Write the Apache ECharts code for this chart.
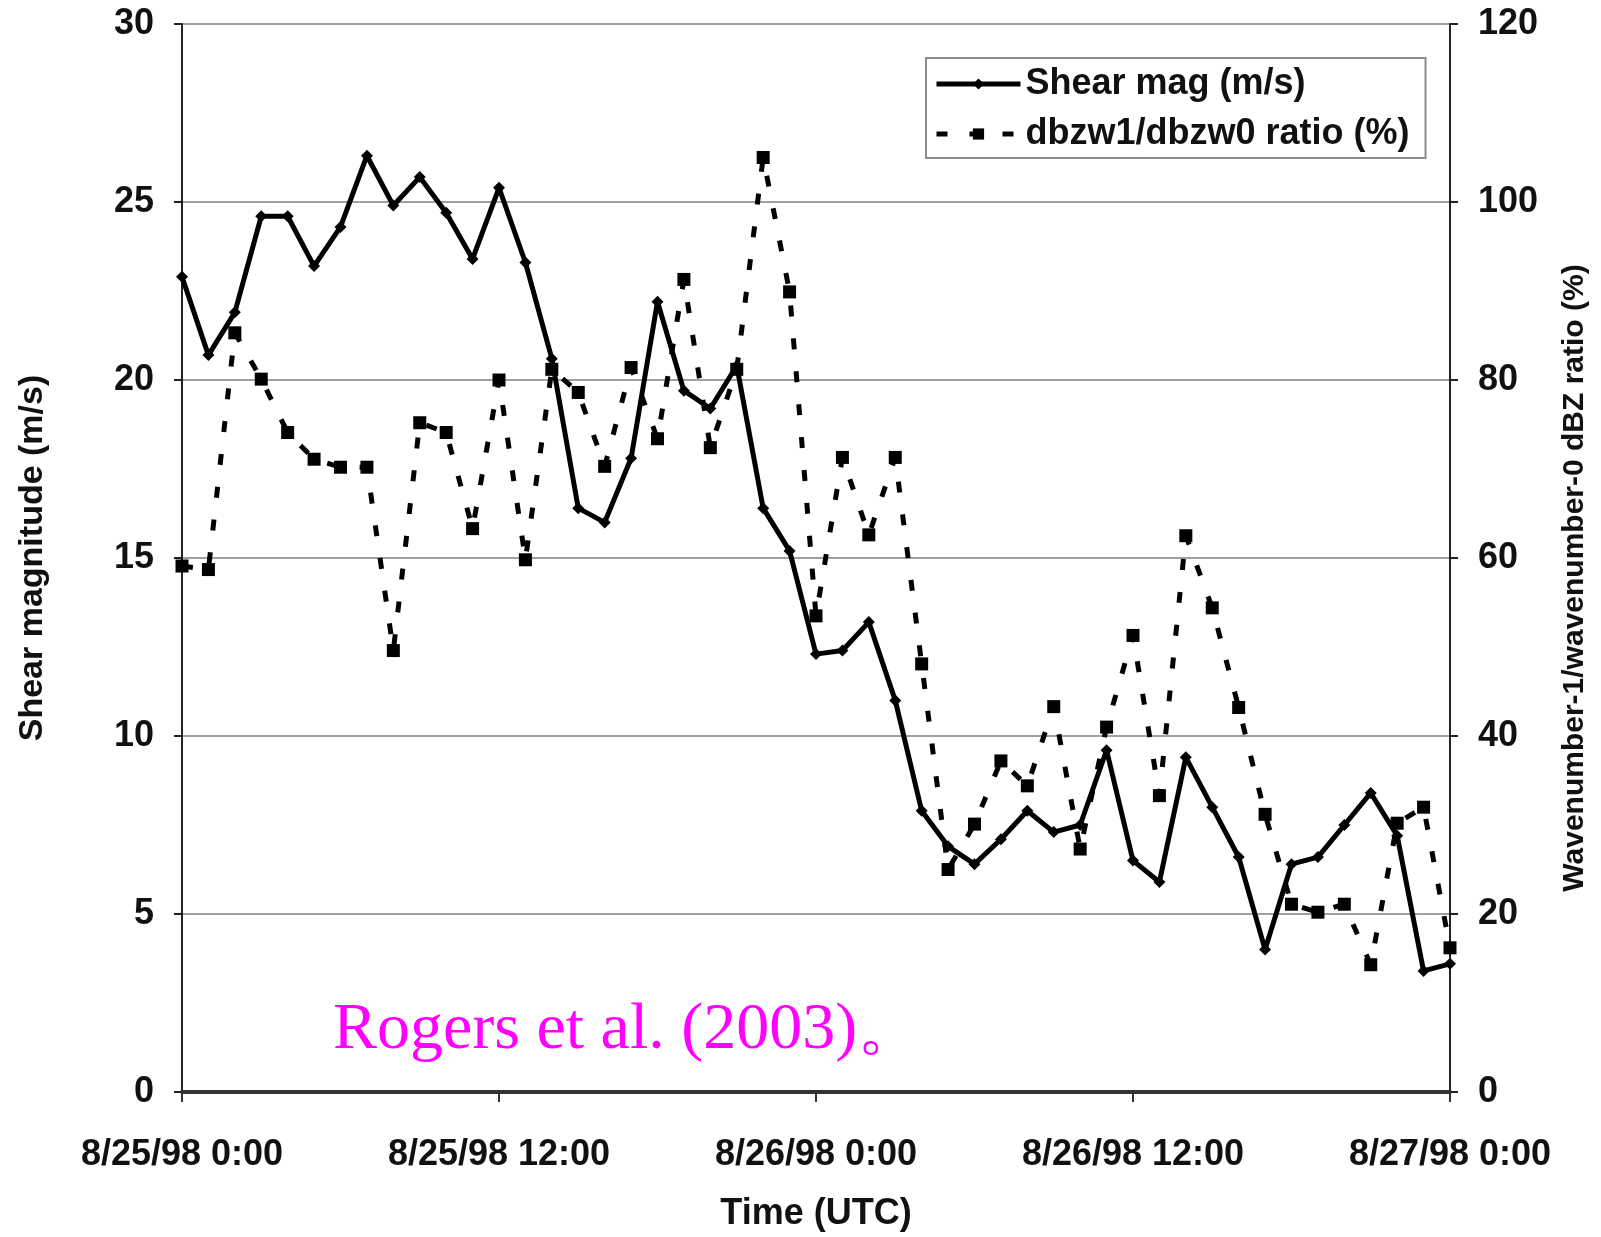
<!DOCTYPE html>
<html>
<head>
<meta charset="utf-8">
<script src="https://cdn.jsdelivr.net/npm/echarts@6/dist/echarts.min.js"></script>
<style>
  html, body { margin: 0; padding: 0; background: #ffffff; }
  #grafico { width: 1601px; height: 1237px; }
</style>
</head>
<body>
<div id="grafico"></div>
<script>
// Datos (horas desde 8/25/98 0:00 UTC)
const horas = [0, 1, 2, 3, 4, 5, 6, 7, 8, 9, 10, 11, 12, 13, 14, 15, 16, 17, 18, 19, 20, 21, 22, 23, 24,
               25, 26, 27, 28, 29, 30, 31, 32, 33, 34, 35, 36, 37, 38, 39, 40, 41, 42, 43, 44, 45, 46, 47, 48];

// Shear mag (m/s)
const cizalla = [22.9, 20.7, 21.9, 24.6, 24.6, 23.2, 24.3, 26.3, 24.9, 25.7, 24.7, 23.4, 25.4, 23.3, 20.6,
                 16.4, 16.0, 17.8, 22.2, 19.7, 19.2, 20.4, 16.4, 15.2, 12.3, 12.4, 13.2, 11.0, 7.9, 6.9,
                 6.4, 7.1, 7.9, 7.3, 7.5, 9.6, 6.5, 5.9, 9.4, 8.0, 6.6, 4.0, 6.4, 6.6, 7.5, 8.4, 7.2, 3.4, 3.6];

// dbzw1/dbzw0 ratio (%)
const cociente = [59.1, 58.7, 85.3, 80.1, 74.1, 71.1, 70.2, 70.2, 49.6, 75.2, 74.1, 63.3, 80.0, 59.8, 81.2,
                  78.6, 70.3, 81.4, 73.4, 91.3, 72.4, 81.2, 105.0, 89.9, 53.5, 71.3, 62.6, 71.3, 48.1, 25.0,
                  30.1, 37.2, 34.4, 43.3, 27.3, 41.0, 51.3, 33.3, 62.5, 54.4, 43.2, 31.2, 21.1, 20.2, 21.1,
                  14.3, 30.2, 32.0, 16.2];

const etiquetasTiempo = ['8/25/98 0:00', '8/25/98 12:00', '8/26/98 0:00', '8/26/98 12:00', '8/27/98 0:00'];

const fuente = "'Liberation Sans', Arial, sans-serif";

// PROCESAMIENTO
function emparejar(valores) {
    return valores.map((v, i) => [horas[i], v]);
}

function ejeY(opciones) {
    return Object.assign({
        type: 'value',
        nameLocation: 'middle',
        nameRotate: 90,
        axisLine: { show: true, lineStyle: { color: '#222', width: 2 } },
        axisTick: { show: true, length: 8, lineStyle: { color: '#222', width: 2 } },
        axisLabel: { fontSize: 36, fontWeight: 'bold', fontFamily: fuente, color: '#111', margin: 28 },
        splitLine: { show: false }
    }, opciones);
}

function crearGrafico(dataCizalla, dataCociente) {
    return {
        animation: false,
        backgroundColor: '#ffffff',
        title: {
            text: 'Rogers et al. (2003)。',
            left: 328,
            top: 993,
            textStyle: {
                fontFamily: "'Liberation Serif', 'Times New Roman', serif",
                fontWeight: 'normal',
                fontSize: 66,
                color: '#ff00ff'
            }
        },
        grid: { left: 182, top: 24, width: 1268, height: 1078, containLabel: false },
        legend: {
            orient: 'vertical',
            left: 926,
            top: 58,
            padding: [8, 16, 6, 8],
            itemGap: 14,
            itemWidth: 84,
            itemHeight: 14,
            backgroundColor: '#ffffff',
            borderColor: '#8a8a8a',
            borderWidth: 2,
            lineStyle: { width: 5 },
            textStyle: { fontSize: 36, fontWeight: 'bold', fontFamily: fuente, color: '#111' },
            data: ['Shear mag (m/s)', 'dbzw1/dbzw0 ratio (%)']
        },
        xAxis: {
            type: 'value',
            min: 0,
            max: 48,
            interval: 12,
            name: 'Time (UTC)',
            nameLocation: 'middle',
            nameGap: 104,
            nameTextStyle: { fontSize: 36, fontWeight: 'bold', fontFamily: fuente, color: '#111' },
            axisLine: { show: true, lineStyle: { color: '#333', width: 4 } },
            axisTick: { show: true, length: 10, lineStyle: { color: '#333', width: 2 } },
            axisLabel: {
                fontSize: 36, fontWeight: 'bold', fontFamily: fuente, color: '#111', margin: 45,
                formatter: v => etiquetasTiempo[v / 12]
            },
            splitLine: { show: false }
        },
        yAxis: [
            ejeY({
                position: 'left',
                min: 0, max: 30, interval: 5,
                name: 'Shear magnitude (m/s)',
                nameGap: 132,
                nameTextStyle: { fontSize: 34, fontWeight: 'bold', fontFamily: fuente, color: '#111' },
                splitLine: { show: true, lineStyle: { color: '#a0a0a0', width: 2 } }
            }),
            ejeY({
                position: 'right',
                min: 0, max: 120, interval: 20,
                name: 'Wavenumber-1/wavenumber-0 dBZ ratio (%)',
                nameGap: 110,
                nameTextStyle: { fontSize: 30, fontWeight: 'bold', fontFamily: fuente, color: '#111', padding: [0, 40, 0, 0] }
            })
        ],
        series: [
            {
                name: 'Shear mag (m/s)',
                type: 'line',
                yAxisIndex: 0,
                symbol: 'diamond',
                symbolSize: 12,
                lineStyle: { color: '#000', width: 5 },
                itemStyle: { color: '#000' },
                data: dataCizalla
            },
            {
                name: 'dbzw1/dbzw0 ratio (%)',
                type: 'line',
                yAxisIndex: 1,
                symbol: 'rect',
                symbolSize: 13,
                lineStyle: { color: '#000', width: 5, type: [11, 22] },
                itemStyle: { color: '#000' },
                data: dataCociente
            }
        ]
    };
}

// Función principal para inicializar el gráfico
function iniciar() {
    const chartDom = document.getElementById('grafico');
    const myChart = echarts.init(chartDom, null, { renderer: 'canvas' });
    const option = crearGrafico(emparejar(cizalla), emparejar(cociente));
    myChart.setOption(option);
}

iniciar();
</script>
</body>
</html>
